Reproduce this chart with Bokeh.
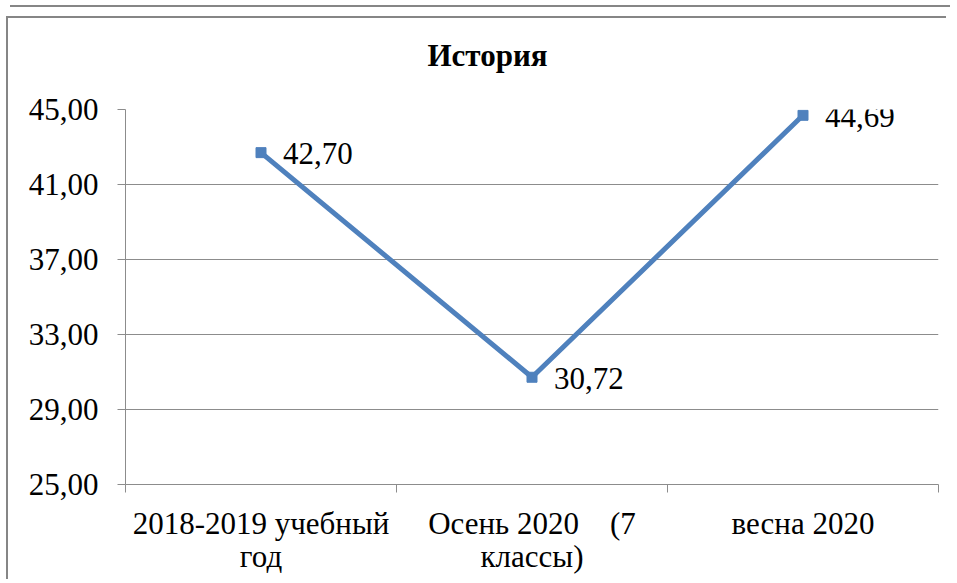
from bokeh.plotting import figure
from bokeh.models import ColumnDataSource, FixedTicker, Div, Title
from bokeh.layouts import column
from bokeh.core.properties import value
from bokeh.embed import file_html
from bokeh.resources import INLINE

# ---- data ----
categories = ["2018-2019 учебный\nгод", "Осень 2020\u00a0\u00a0\u00a0\u00a0(7\nклассы)", "весна 2020"]
scores = [42.70, 30.72, 44.69]
score_labels = ["42,70", "30,72", "44,69"]
y_ticks = [25, 29, 33, 37, 41, 45]
y_tick_labels = ["25,00", "29,00", "33,00", "37,00", "41,00", "45,00"]
title_text = "История"

FONT = "serif"   # resolves to Liberation Serif (Times New Roman metrics)
BLUE = "#4F81BD"
GRAY = "#8C8C8C"

xpos = [i + 0.5 for i in range(len(categories))]
src = ColumnDataSource(dict(x=xpos, y=scores, lab=score_labels))

p = figure(width=940, height=563, x_range=(0, len(categories)), y_range=(25, 45),
           output_backend="svg", toolbar_location=None,
           min_border_left=117, min_border_right=10, min_border_top=91, min_border_bottom=97)
p.styles = {"border-left": "2px solid #868686", "border-top": "2px solid #868686", "margin-left": "6px"}
p.outline_line_color = None

# real title
p.title.text = title_text
p.title.text_font = FONT
p.title.text_font_size = "31px"
p.title.text_font_style = "bold"
p.title.text_color = "black"
p.title.align = "left"
p.title.offset = 302
p.title.standoff = 0
# invisible spacer between title and plot frame
p.add_layout(Title(text="\u00a0", text_font_size="10px", standoff=24, text_color="white"), "above")

p.line("x", "y", source=src, line_color=BLUE, line_width=5)
p.scatter("x", "y", source=src, marker="square", size=10, fill_color=BLUE, line_color=BLUE)
p.text("x", "y", text="lab", source=src, text_font=value(FONT), text_font_size="31px",
       text_color="black", text_align="left", text_baseline="middle", x_offset=22, y_offset=1)

# y axis
p.yaxis.ticker = FixedTicker(ticks=y_ticks)
p.yaxis.major_label_overrides = {t: l for t, l in zip(y_ticks, y_tick_labels)}
p.yaxis.major_label_text_font = FONT
p.yaxis.major_label_text_font_size = "31px"
p.yaxis.major_label_text_color = "black"
p.yaxis.major_label_standoff = 19
p.yaxis.major_tick_out = 8
p.yaxis.major_tick_in = 0
p.yaxis.minor_tick_out = 0
p.yaxis.minor_tick_in = 0
p.yaxis.axis_line_color = GRAY
p.yaxis.major_tick_line_color = GRAY

# x axis: labels at category centres, ticks at boundaries
p.xaxis.ticker = FixedTicker(ticks=xpos, minor_ticks=list(range(len(categories) + 1)))
p.xaxis.major_label_overrides = {x: c for x, c in zip(xpos, categories)}
p.xaxis.major_label_text_font = FONT
p.xaxis.major_label_text_font_size = "31px"
p.xaxis.major_label_text_color = "black"
p.xaxis.major_label_text_line_height = 0.97
p.xaxis.major_label_standoff = 13
p.xaxis.major_tick_out = 0
p.xaxis.major_tick_in = 0
p.xaxis.minor_tick_out = 8
p.xaxis.minor_tick_in = 0
p.xaxis.minor_tick_line_color = GRAY
p.xaxis.axis_line_color = GRAY

p.xgrid.grid_line_color = None
p.ygrid.grid_line_color = GRAY
p.ygrid.grid_line_width = 1

top = Div(text="", width=940, height=2,
          styles={"border-left": "2px solid #868686", "border-bottom": "2px solid #868686", "margin-left": "10px"})
layout = column(top, p, spacing=4)

open("out.html", "w").write(file_html(layout, INLINE))
